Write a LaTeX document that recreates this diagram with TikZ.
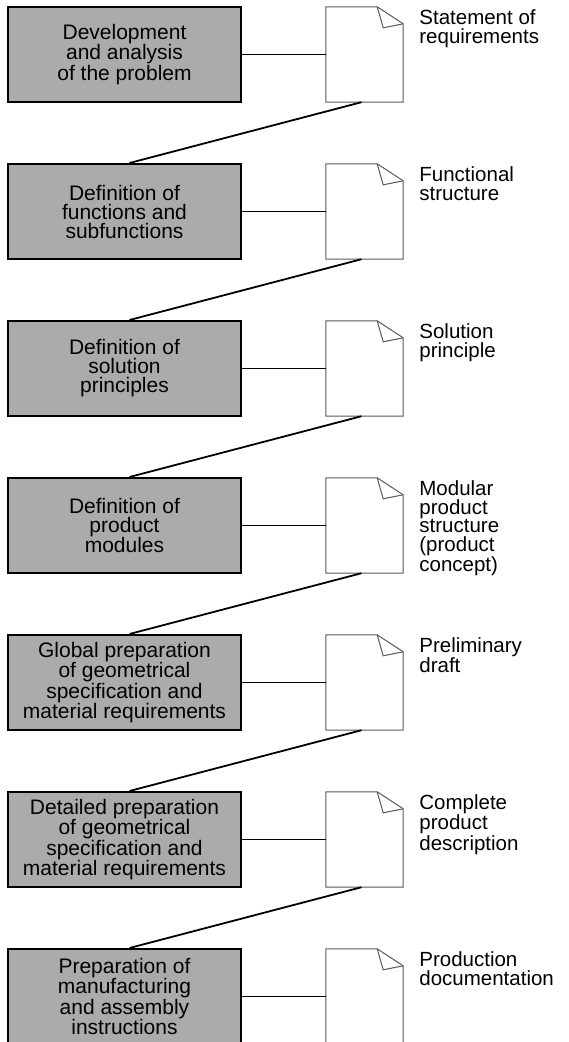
\documentclass[tikz,border=0pt]{standalone}
\usepackage{fontspec}
\setmainfont{Liberation Sans}

\tikzset{
    stage/.style={draw=black, line width=2pt, fill=black!33, minimum width=233pt, minimum height=95pt, inner sep=0pt, align=center, font=\fontsize{21}{19}\selectfont},
    sheet/.style={minimum width=77pt, minimum height=95pt, inner sep=0pt},
    result/.style={anchor=north west, inner sep=0pt, align=left, font=\fontsize{20.5}{18.5}\selectfont},
    flowline/.style={black, line width=1.8pt}
}

\newcommand{\foldsheet}[1]{
    \draw[black!65, line width=1pt] (#1.south west) -- (#1.north west) -- ([xshift=-26pt]#1.north east) -- ([yshift=-17pt]#1.north east) -- (#1.south east) -- cycle;
    \draw[black!65, line width=1pt] ([xshift=-26pt]#1.north east) -- ([xshift=-20pt,yshift=-21pt]#1.north east) -- ([yshift=-17pt]#1.north east);
}

\begin{document}
\begin{tikzpicture}[x=1pt, y=-1pt]
    \useasboundingbox (0,0) rectangle (568,1042);

    \node[stage] (b1) at (124.5,54.5) {Development\\and analysis\\of the problem};
    \node[stage] (b2) at (124.5,211.5) {Definition of\\functions and\\subfunctions};
    \node[stage] (b3) at (124.5,368.5) {Definition of\\solution\\principles};
    \node[stage] (b4) at (124.5,525.5) {Definition of\\product\\modules};
    \node[stage] (b5) at (124.5,682.5) {Global preparation\\of geometrical\\specification and\\material requirements};
    \node[stage] (b6) at (124.5,839.5) {Detailed preparation\\of geometrical\\specification and\\material requirements};
    \node[stage] (b7) at (124.5,996.5) {Preparation of\\manufacturing\\and assembly\\instructions};

    \node[sheet] (d1) at (364.5,54.5) {};
    \node[sheet] (d2) at (364.5,211.5) {};
    \node[sheet] (d3) at (364.5,368.5) {};
    \node[sheet] (d4) at (364.5,525.5) {};
    \node[sheet] (d5) at (364.5,682.5) {};
    \node[sheet] (d6) at (364.5,839.5) {};
    \node[sheet] (d7) at (364.5,996.5) {};
    \foldsheet{d1}
    \foldsheet{d2}
    \foldsheet{d3}
    \foldsheet{d4}
    \foldsheet{d5}
    \foldsheet{d6}
    \foldsheet{d7}

    \node[result] (r1) at ([xshift=16pt,yshift=-3pt]d1.north east) {Statement of\\requirements};
    \node[result] (r2) at ([xshift=16pt,yshift=-3pt]d2.north east) {Functional\\structure};
    \node[result] (r3) at ([xshift=16pt,yshift=-3pt]d3.north east) {Solution\\principle};
    \node[result] (r4) at ([xshift=16pt,yshift=-3pt]d4.north east) {Modular\\product\\structure\\(product\\concept)};
    \node[result] (r5) at ([xshift=16pt,yshift=-3pt]d5.north east) {Preliminary\\draft};
    \node[result] (r6) at ([xshift=16pt,yshift=-3pt]d6.north east) {Complete\\product\\description};
    \node[result] (r7) at ([xshift=16pt,yshift=-3pt]d7.north east) {Production\\documentation};

    \draw[flowline] (b1) -- (d1);
    \draw[flowline] (b2) -- (d2);
    \draw[flowline] (b3) -- (d3);
    \draw[flowline] (b4) -- (d4);
    \draw[flowline] (b5) -- (d5);
    \draw[flowline] (b6) -- (d6);
    \draw[flowline] (b7) -- (d7);

    \draw[flowline] ([xshift=-3pt]d1.south) -- ([xshift=5pt]b2.north);
    \draw[flowline] ([xshift=-3pt]d2.south) -- ([xshift=5pt]b3.north);
    \draw[flowline] ([xshift=-3pt]d3.south) -- ([xshift=5pt]b4.north);
    \draw[flowline] ([xshift=-3pt]d4.south) -- ([xshift=5pt]b5.north);
    \draw[flowline] ([xshift=-3pt]d5.south) -- ([xshift=5pt]b6.north);
    \draw[flowline] ([xshift=-3pt]d6.south) -- ([xshift=5pt]b7.north);
\end{tikzpicture}
\end{document}
